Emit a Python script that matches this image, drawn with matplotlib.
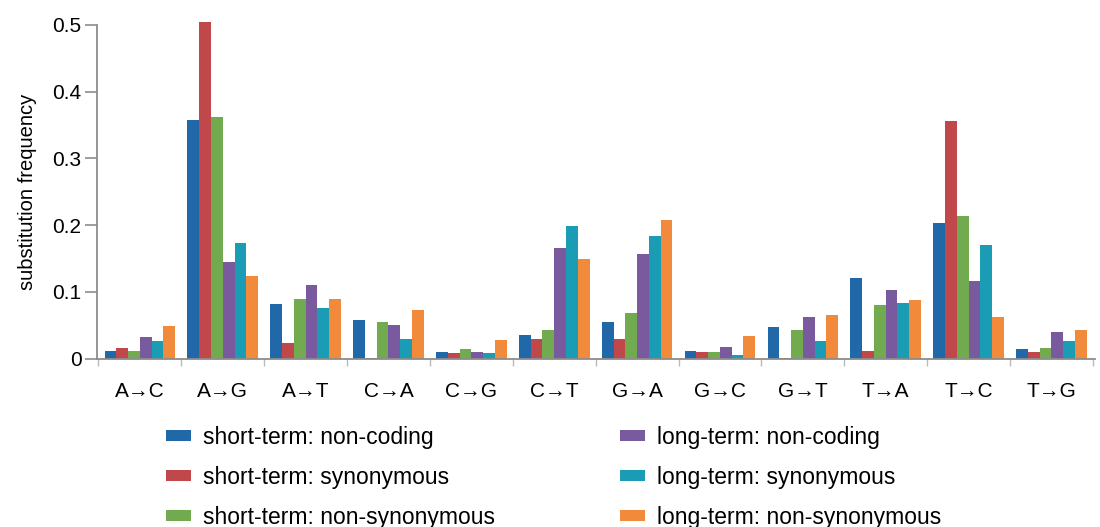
import matplotlib
matplotlib.use("Agg")
import matplotlib.pyplot as plt
import numpy as np

categories = ["A→C", "A→G", "A→T", "C→A", "C→G", "C→T",
              "G→A", "G→C", "G→T", "T→A", "T→C", "T→G"]
series_names = ["short-term: non-coding", "short-term: synonymous",
                "short-term: non-synonymous", "long-term: non-coding",
                "long-term: synonymous", "long-term: non-synonymous"]
short_noncoding = [0.012, 0.357, 0.082, 0.057, 0.010, 0.035, 0.054, 0.012, 0.047, 0.120, 0.203, 0.014]
short_synonymous = [0.016, 0.504, 0.024, 0.001, 0.008, 0.030, 0.030, 0.010, 0.001, 0.012, 0.356, 0.010]
short_nonsyn = [0.012, 0.362, 0.089, 0.054, 0.014, 0.043, 0.068, 0.010, 0.043, 0.080, 0.214, 0.016]
long_noncoding = [0.033, 0.144, 0.110, 0.050, 0.010, 0.166, 0.157, 0.018, 0.062, 0.103, 0.116, 0.040]
long_synonymous = [0.026, 0.173, 0.075, 0.030, 0.008, 0.198, 0.183, 0.006, 0.026, 0.083, 0.170, 0.027]
long_nonsyn = [0.049, 0.124, 0.089, 0.072, 0.028, 0.149, 0.208, 0.034, 0.065, 0.087, 0.062, 0.043]
yticks = [0, 0.1, 0.2, 0.3, 0.4, 0.5]
ytick_labels = ["0", "0.1", "0.2", "0.3", "0.4", "0.5"]

series = [short_noncoding, short_synonymous, short_nonsyn,
          long_noncoding, long_synonymous, long_nonsyn]
colors = ["#2068a8", "#c0474a", "#72aa4f", "#7a5a9e", "#1a9cb4", "#f28a3c"]

plt.rcParams['font.family'] = ['Liberation Sans', 'DejaVu Sans']

fig = plt.figure(figsize=(11, 5.27), dpi=100)
ax = fig.add_axes([0.088, 0.3197, 0.907, 0.6329])

x = np.arange(len(categories))
w = 0.142
handles = []
for i, (vals, c) in enumerate(zip(series, colors)):
    b = ax.bar(x + (i - 2.5) * w, vals, width=w, color=c, edgecolor='none',
               clip_on=False)
    handles.append(b)

ax.set_xlim(-0.52, 11.52)
ax.set_ylim(0, 0.5)
for s in ['top', 'right']:
    ax.spines[s].set_visible(False)
for s in ['left', 'bottom']:
    ax.spines[s].set_color('#8c8c8c')
    ax.spines[s].set_linewidth(1.3)
ax.set_yticks(yticks)
ax.set_yticklabels(ytick_labels, fontsize=15)
ax.tick_params(axis='y', length=9, width=1.2, color='#8c8c8c', pad=2)
ax.set_xticks(x)
ax.set_xticklabels(categories, fontsize=15)
ax.tick_params(axis='x', which='major', length=0, pad=17)
ax.set_xticks(np.arange(-0.5, 12, 1), minor=True)
ax.tick_params(axis='x', which='minor', length=5, width=1, color='#bbbbbb')
ax.set_ylabel("substitution frequency", fontsize=14.5)
ax.yaxis.set_label_coords(-0.060, 0.5)
for sp in ax.spines.values():
    sp.set_clip_on(False)

common = dict(loc='upper left', frameon=False, fontsize=16.5,
              handlelength=1.08, handleheight=0.39, handletextpad=0.52,
              labelspacing=0.74, borderpad=0, borderaxespad=0)
leg1 = fig.legend(handles[:3], series_names[:3],
                  bbox_to_anchor=(0.151, 0.192), **common)
leg2 = fig.legend(handles[3:], series_names[3:],
                  bbox_to_anchor=(0.5636, 0.192), **common)

fig.savefig("out.png", dpi=100)
